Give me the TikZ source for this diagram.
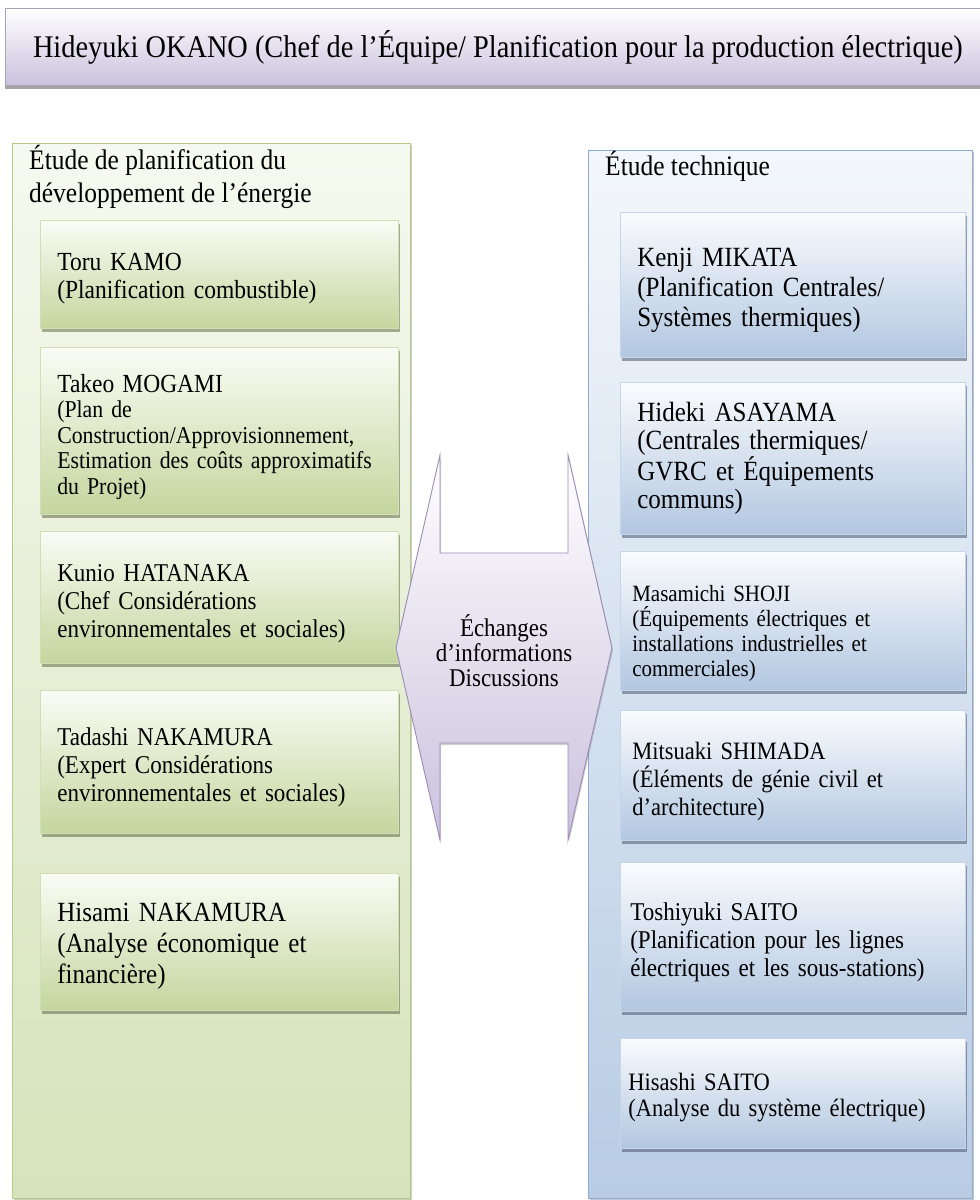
\documentclass[tikz,border=0pt]{standalone}
\usepackage{fontspec}
\setmainfont[FakeStretch=0.9]{Liberation Serif}
\usetikzlibrary{shadows}

\definecolor{headB}{HTML}{C9C1DD}
\definecolor{headLine}{HTML}{A8A2B6}
\definecolor{gcTop}{HTML}{F6F9EF}
\definecolor{gcBot}{HTML}{D6E3BB}
\definecolor{gcLine}{HTML}{B5CA8A}
\definecolor{gbTop}{HTML}{FAFCF5}
\definecolor{gbBot}{HTML}{C4D69E}
\definecolor{gbLine}{HTML}{D2DEB8}
\definecolor{gbShadow}{HTML}{6B7852}
\definecolor{bcTop}{HTML}{F3F7FB}
\definecolor{bcBot}{HTML}{B8CCE4}
\definecolor{bcLine}{HTML}{8FABD0}
\definecolor{bbTop}{HTML}{FAFBFD}
\definecolor{bbBot}{HTML}{B2C7E1}
\definecolor{bbLine}{HTML}{C6D5E9}
\definecolor{bbShadow}{HTML}{55647A}
\definecolor{arB}{HTML}{CBC1DD}
\definecolor{arLine}{HTML}{9A8CB6}

% raises the first line of a box to push its text block down
\newcommand{\boxstrut}[1]{\rule{0pt}{#1}}

\begin{document}
\begin{tikzpicture}[x=1pt,y=-1pt,
  every node/.style={inner sep=0pt},
  banner/.style={draw=headLine, line width=0.8pt, top color=white, bottom color=headB,
    drop shadow={shadow xshift=0pt, shadow yshift=-4pt, opacity=.5, fill=black!70},
    anchor=north west, minimum width=985, minimum height=77},
  gcont/.style={draw=gcLine, line width=0.8pt, top color=gcTop, bottom color=gcBot,
    drop shadow={shadow xshift=1.5pt, shadow yshift=-1.5pt, opacity=.35, fill=gbShadow},
    anchor=north west},
  bcont/.style={draw=bcLine, line width=0.8pt, top color=bcTop, bottom color=bcBot,
    drop shadow={shadow xshift=1.5pt, shadow yshift=-1.5pt, opacity=.35, fill=bbShadow},
    anchor=north west},
  ctitle/.style={anchor=north west, align=left, font=\fontsize{28.3}{33}\selectfont},
  gbox/.style={draw=gbLine, line width=0.6pt, top color=gbTop, bottom color=gbBot,
    drop shadow={shadow xshift=1.5pt, shadow yshift=-4pt, opacity=.6, fill=gbShadow},
    anchor=north west, text width=324, inner xsep=17, minimum width=358, align=left},
  bbox/.style={draw=bbLine, line width=0.6pt, top color=bbTop, bottom color=bbBot,
    drop shadow={shadow xshift=1.5pt, shadow yshift=-4pt, opacity=.6, fill=bbShadow},
    anchor=north west, text width=321, inner xsep=12, minimum width=345, align=left},
  xarrow/.style={draw=arLine, line width=0.9pt, top color=white, bottom color=arB,
    drop shadow={shadow xshift=1pt, shadow yshift=-2pt, opacity=.3, fill=black!60}},
  xlabel/.style={align=center, font=\fontsize{25.5}{25}\selectfont}
]
\useasboundingbox (0,0) rectangle (980,1200);
\fill[white] (0,0) rectangle (980,1200);

% team leader banner
\node[banner, font=\fontsize{31.5}{34}\selectfont] (head) at (5,8)
  {Hideyuki OKANO (Chef de l’Équipe/ Planification pour la production électrique)};

% two study groups
\node[gcont, minimum width=398, minimum height=1055] (leftgrp) at (12,143) {};
\node[bcont, minimum width=384, minimum height=1048] (rightgrp) at (588,150) {};

\node[ctitle] (lefttitle) at (29,145) {Étude de planification du\\développement de l’énergie};
\node[ctitle] (righttitle) at (605,151) {Étude technique};

% energy development planning members
\node[gbox, minimum height=108, font=\fontsize{26.1}{28}\selectfont] (kamo) at (40,220)
  {\boxstrut{26pt}Toru KAMO\\(Planification combustible)};
\node[gbox, minimum height=167, font=\fontsize{24.2}{25.5}\selectfont] (mogami) at (40,347)
  {\boxstrut{30pt}{\fontsize{26.1}{26}\selectfont Takeo MOGAMI}\\
   (Plan de\\Construction/Approvisionnement,\\Estimation des coûts approximatifs\\du Projet)};
\node[gbox, minimum height=132, font=\fontsize{25.6}{28}\selectfont] (hatanaka) at (40,531)
  {\boxstrut{30pt}Kunio HATANAKA\\(Chef Considérations\\environnementales  et sociales)};
\node[gbox, minimum height=143, font=\fontsize{25.6}{28}\selectfont] (tnakamura) at (40,690)
  {\boxstrut{28pt}Tadashi NAKAMURA\\(Expert Considérations\\environnementales  et sociales)};
\node[gbox, minimum height=137, font=\fontsize{27.8}{31}\selectfont] (hnakamura) at (40,873)
  {\boxstrut{28pt}Hisami NAKAMURA\\(Analyse économique et\\financière)};

% technical study members
\node[bbox, minimum height=145, inner xsep=17, text width=311, font=\fontsize{27.8}{30}\selectfont] (mikata) at (620,212)
  {\boxstrut{30pt}Kenji MIKATA\\(Planification  Centrales/\\Systèmes thermiques)};
\node[bbox, minimum height=152, inner xsep=17, text width=311, font=\fontsize{27.8}{28.5}\selectfont] (asayama) at (620,382)
  {Hideki ASAYAMA\\(Centrales thermiques/\\GVRC  et Équipements\\communs)};
\node[bbox, minimum height=139, font=\fontsize{23.3}{25}\selectfont] (shoji) at (620,551)
  {\boxstrut{42pt}Masamichi SHOJI\\(Équipements électriques et\\installations industrielles et\\commerciales)};
\node[bbox, minimum height=130, font=\fontsize{25}{28}\selectfont] (shimada) at (620,710)
  {\boxstrut{30pt}Mitsuaki SHIMADA\\(Éléments  de génie  civil et\\d’architecture)};
\node[bbox, minimum height=149, inner xsep=10, text width=325, font=\fontsize{25.6}{28}\selectfont] (tsaito) at (620,862)
  {\boxstrut{28pt}Toshiyuki SAITO\\(Planification pour les lignes\\électriques et les sous-stations)};
\node[bbox, minimum height=110, inner xsep=8, text width=329, font=\fontsize{25}{26}\selectfont] (hsaito) at (620,1038)
  {\boxstrut{26pt}Hisashi SAITO\\(Analyse du système électrique)};

% two-way exchange arrow between the groups
\draw[xarrow] (396,648) -- (440,455) -- (440,553) -- (568,553) -- (568,455)
  -- (612,648) -- (568,840) -- (568,743) -- (440,743) -- (440,840) -- cycle;
\node[xlabel] (xchg) at (504,651) {Échanges\\d’informations\\Discussions};
\end{tikzpicture}
\end{document}
